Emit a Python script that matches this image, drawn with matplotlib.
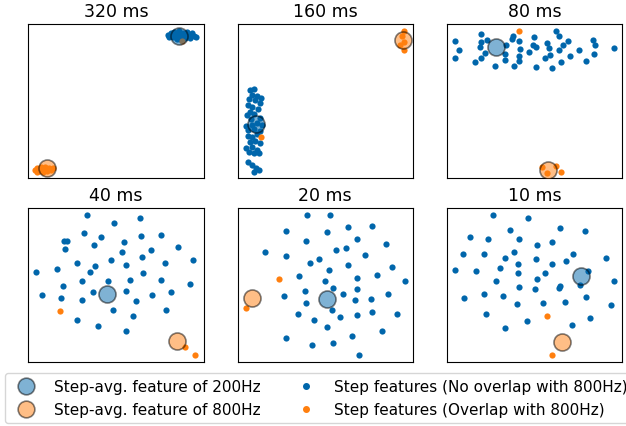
import numpy as np
import matplotlib.pyplot as plt

# 2-D feature embeddings (arbitrary units, y grows downward)
titles = ["320 ms", "160 ms", "80 ms", "40 ms", "20 ms", "10 ms"]

# panel extents (x0, x1, y_top, y_bottom)
limits = [(25, 550, 77, 537), (22, 546, 78, 535), (52, 575, 78, 535),
          (25, 550, 58, 518), (22, 547, 58, 518), (52, 575, 58, 518)]

blue_320 = [(445, 110), (452, 104), (458, 116), (462, 100), (468, 108), (472, 120),
            (478, 98), (484, 112), (490, 104), (494, 118), (500, 100), (505, 110),
            (510, 118), (516, 104), (522, 112), (528, 114), (470, 102), (456, 108),
            (498, 112), (512, 108), (448, 114), (480, 122)]
orange_320 = [(45, 512), (52, 508), (58, 515), (62, 505), (68, 512), (74, 504),
              (80, 516), (86, 508), (92, 512), (98, 506), (50, 518), (70, 520), (486, 126)]
avg200_320 = (478, 111)
avg800_320 = (80, 506)

blue_160 = [(58, 274), (72, 270), (66, 288), (80, 290), (92, 296), (56, 300), (74, 304),
            (88, 312), (52, 318), (66, 324), (82, 330), (60, 340), (72, 346), (50, 348),
            (88, 356), (62, 360), (48, 380), (64, 378), (80, 372), (96, 378), (54, 392),
            (72, 388), (90, 396), (52, 410), (66, 414), (80, 404), (58, 428), (74, 424),
            (90, 430), (48, 446), (66, 444), (80, 452), (56, 458), (70, 462), (86, 460),
            (54, 488), (66, 496), (78, 504), (86, 510), (72, 516)]
orange_160 = [(92, 414), (518, 98), (512, 112), (520, 130), (518, 156), (508, 140)]
avg200_160 = (78, 374)
avg800_160 = (515, 126)

blue_80 = [(75, 128), (87, 154), (75, 179), (153, 106), (153, 131), (150, 145), (172, 124),
           (166, 163), (154, 179), (137, 191), (196, 201), (227, 140), (226, 166), (226, 183),
           (245, 123), (250, 113), (268, 127), (270, 153), (268, 173), (266, 188), (251, 203),
           (296, 162), (313, 115), (310, 140), (318, 147), (319, 204), (344, 178), (351, 133),
           (358, 150), (361, 169), (364, 207), (376, 97), (386, 113), (387, 156), (399, 141),
           (412, 127), (391, 190), (419, 171), (446, 155), (468, 187), (487, 125), (493, 141),
           (492, 167), (550, 150)]
orange_80 = [(266, 99), (335, 502), (378, 500), (393, 516), (352, 520)]
avg200_80 = (197, 145)
avg800_80 = (355, 511)

blue_40 = [(201, 79), (282, 104), (359, 88), (191, 134), (244, 143), (131, 155), (141, 157),
           (311, 158), (364, 140), (423, 139), (134, 180), (223, 169), (306, 188), (392, 182),
           (475, 175), (366, 203), (519, 212), (274, 213), (172, 223), (224, 231), (317, 227),
           (435, 221), (48, 250), (110, 240), (209, 250), (368, 252), (186, 275), (265, 275),
           (329, 273), (422, 272), (128, 291), (510, 286), (67, 319), (124, 326), (218, 310),
           (317, 305), (452, 308), (395, 317), (185, 334), (348, 337), (279, 363), (439, 362),
           (339, 380), (170, 393), (234, 410), (318, 425)]
orange_40 = [(120, 367), (494, 472), (525, 497)]
avg200_40 = (262, 314)
avg800_40 = (470, 456)

blue_20 = [(230, 79), (300, 79), (167, 126), (291, 129), (353, 115), (425, 111), (227, 157),
           (380, 150), (466, 164), (104, 188), (316, 182), (348, 177), (168, 201), (405, 198),
           (239, 222), (265, 211), (352, 227), (484, 234), (296, 244), (206, 262), (381, 266),
           (440, 258), (284, 277), (522, 276), (309, 297), (379, 299), (223, 305), (160, 320),
           (339, 315), (474, 315), (226, 341), (375, 332), (421, 329), (304, 362), (203, 374),
           (328, 385), (379, 379), (424, 368), (498, 375), (252, 392), (290, 414), (168, 447),
           (365, 439), (455, 425), (246, 468), (307, 461), (386, 496)]
orange_20 = [(145, 271), (47, 357)]
avg200_20 = (289, 331)
avg800_20 = (64, 328)

blue_10 = [(190, 79), (295, 87), (241, 125), (389, 119), (463, 128), (120, 144), (174, 149),
           (268, 149), (366, 159), (322, 169), (99, 195), (162, 196), (251, 188), (428, 194),
           (224, 208), (318, 210), (406, 217), (527, 208), (75, 242), (138, 246), (211, 237),
           (264, 225), (364, 225), (265, 251), (346, 251), (472, 246), (199, 275), (321, 271),
           (448, 287), (550, 276), (266, 295), (314, 301), (386, 298), (389, 292), (104, 327),
           (162, 314), (218, 322), (468, 324), (261, 346), (340, 343), (405, 339), (541, 348),
           (168, 376), (292, 395), (479, 388), (225, 417), (425, 408)]
orange_10 = [(350, 382), (364, 496)]
avg200_10 = (453, 260)
avg800_10 = (394, 457)

blue_sets = [blue_320, blue_160, blue_80, blue_40, blue_20, blue_10]
orange_sets = [orange_320, orange_160, orange_80, orange_40, orange_20, orange_10]
avg200 = [avg200_320, avg200_160, avg200_80, avg200_40, avg200_20, avg200_10]
avg800 = [avg800_320, avg800_160, avg800_80, avg800_40, avg800_20, avg800_10]

blue = '#0066ab'
orange = '#ff7f0e'

fig, axes = plt.subplots(2, 3, figsize=(6.26, 4.27), dpi=100)
fig.subplots_adjust(left=0.045, right=0.994, top=0.941, bottom=0.15,
                    wspace=0.194, hspace=0.195)

for i, ax in enumerate(axes.flat):
    b = np.array(blue_sets[i])
    o = np.array(orange_sets[i])
    ax.scatter(b[:, 0], b[:, 1], s=20, color=blue, linewidths=0, zorder=2)
    ax.scatter(o[:, 0], o[:, 1], s=20, color=orange, linewidths=0, zorder=2)
    ax.scatter([avg200[i][0]], [avg200[i][1]], s=150, color=blue, alpha=0.5,
               edgecolors='black', linewidths=1.2, zorder=3)
    ax.scatter([avg800[i][0]], [avg800[i][1]], s=150, color=orange, alpha=0.5,
               edgecolors='black', linewidths=1.2, zorder=3)
    x0, x1, yt, yb = limits[i]
    ax.set_xlim(x0, x1)
    ax.set_ylim(yb, yt)
    ax.set_xticks([])
    ax.set_yticks([])
    ax.set_title(titles[i], fontsize=12.5)

h1 = plt.Line2D([], [], marker='o', ls='', markersize=12, color=blue, alpha=0.5,
                markeredgecolor='black', markeredgewidth=1.2)
h2 = plt.Line2D([], [], marker='o', ls='', markersize=12, color=orange, alpha=0.5,
                markeredgecolor='black', markeredgewidth=1.2)
h3 = plt.Line2D([], [], marker='o', ls='', markersize=4, color=blue)
h4 = plt.Line2D([], [], marker='o', ls='', markersize=4, color=orange)
fig.legend([h1, h2, h3, h4],
           ["Step-avg. feature of 200Hz", "Step-avg. feature of 800Hz",
            "Step features (No overlap with 800Hz)", "Step features (Overlap with 800Hz)"],
           loc='lower left', bbox_to_anchor=(5 / 626, 3 / 427), borderaxespad=0,
           ncol=2, fontsize=11)

plt.savefig("out.png")
